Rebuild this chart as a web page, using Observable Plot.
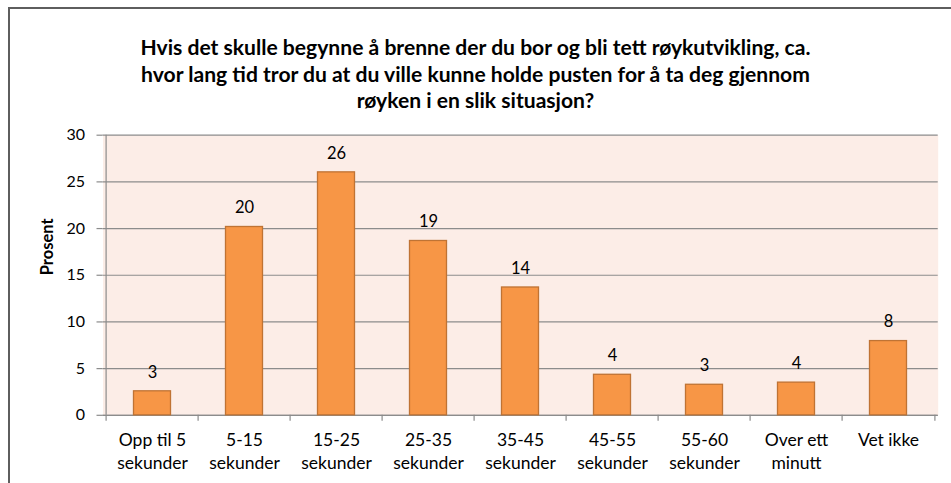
<!DOCTYPE html>
<html>
<head>
<meta charset="utf-8">
<script src="https://cdn.jsdelivr.net/npm/d3@7"></script>
<script src="https://cdn.jsdelivr.net/npm/@observablehq/plot@0.6"></script>
<style>
  html, body { margin: 0; padding: 0; background: #fff; }
  body { width: 951px; height: 483px; overflow: hidden; position: relative; font-family: Lato, "Open Sans", sans-serif; }
  #border { position: absolute; left: 8px; top: 7px; width: 1200px; height: 1200px; border-left: 2px solid #5e5e5e; border-top: 2px solid #5e5e5e; pointer-events: none; }
  #title { position: absolute; left: 0; top: 34px; width: 951px; text-align: center; font-weight: bold; font-size: 21.1px; line-height: 26.5px; color: #000; }
  #chart { position: absolute; left: 0; top: 120px; }
</style>
</head>
<body>
<div id="title"></div>
<div id="chart"></div>
<div id="border"></div>
<script>
const titleLines = [
  "Hvis det skulle begynne å brenne der du bor og bli tett røykutvikling, ca.",
  "hvor lang tid tror du at du ville kunne holde pusten for å ta deg gjennom",
  "røyken i en slik situasjon?"
];
const categories = ["Opp til 5\nsekunder", "5-15\nsekunder", "15-25\nsekunder", "25-35\nsekunder", "35-45\nsekunder", "45-55\nsekunder", "55-60\nsekunder", "Over ett\nminutt", "Vet ikke"];
const values = [2.57, 20.17, 26.02, 18.67, 13.69, 4.34, 3.27, 3.5, 7.95];
const valueLabels = ["3", "20", "26", "19", "14", "4", "3", "4", "8"];
const yTicks = [0, 5, 10, 15, 20, 25, 30];
const yLabel = "Prosent";

document.getElementById("title").innerHTML = titleLines.map(s => `<div>${s}</div>`).join("");

const data = categories.map((c, i) => ({cat: c, value: values[i], label: valueLabels[i]}));

const W = 951, H = 363;
const mL = 102.5, mR = 13.3, mT = 14.7, mB = 68.2;
const bw = (W - mL - mR) / categories.length;
const barW = 37.8;
const inset = (bw - barW) / 2;
const font = "Lato, 'Open Sans', sans-serif";
const gridColor = "#8c8c8c";

const chart = Plot.plot({
  width: W,
  height: H,
  marginLeft: mL,
  marginRight: mR,
  marginTop: mT,
  marginBottom: mB,
  style: {fontFamily: font, fontSize: "16px", color: "#000", background: "transparent", overflow: "visible"},
  x: {domain: categories, padding: 0, label: null},
  y: {domain: [0, 30], label: null},
  marks: [
    Plot.frame({fill: "#fcede7", stroke: null}),
    Plot.gridY(yTicks, {stroke: gridColor, strokeOpacity: 1, strokeWidth: 1.2}),
    Plot.ruleX([categories[0]], {dx: -bw / 2, y1: 0, y2: 30, stroke: gridColor, strokeWidth: 1.2}),
    Plot.ruleY([0], {stroke: gridColor, strokeWidth: 1.2}),
    Plot.ruleX(categories, {dx: -bw / 2, y1: 0, y2: 0, insetBottom: -6, stroke: gridColor, strokeWidth: 1.2}),
    Plot.ruleX([categories[categories.length - 1]], {dx: bw / 2, y1: 0, y2: 0, insetBottom: -6, stroke: gridColor, strokeWidth: 1.2}),
    Plot.axisY({ticks: yTicks, tickSize: 6, tickPadding: 12, stroke: gridColor, strokeWidth: 1.2, fontSize: 16, label: null, fill: "#000"}),
    Plot.axisX({tickSize: 0, tickPadding: 14, fontSize: 17.5, lineHeight: 1.34, label: null, fill: "#000"}),
    Plot.barY(data, {x: "cat", y: "value", fill: "#f79646", stroke: "#bf7334", strokeWidth: 1.3, insetLeft: inset, insetRight: inset}),
    Plot.text(data, {x: "cat", y: "value", text: "label", dy: -19, fontSize: 16.5, fill: "#000"}),
    Plot.text([yLabel], {frameAnchor: "left", dx: -55.5, rotate: -90, fontWeight: "bold", fontSize: 16.5, fill: "#000"})
  ]
});
document.getElementById("chart").appendChild(chart);
</script>
</body>
</html>
